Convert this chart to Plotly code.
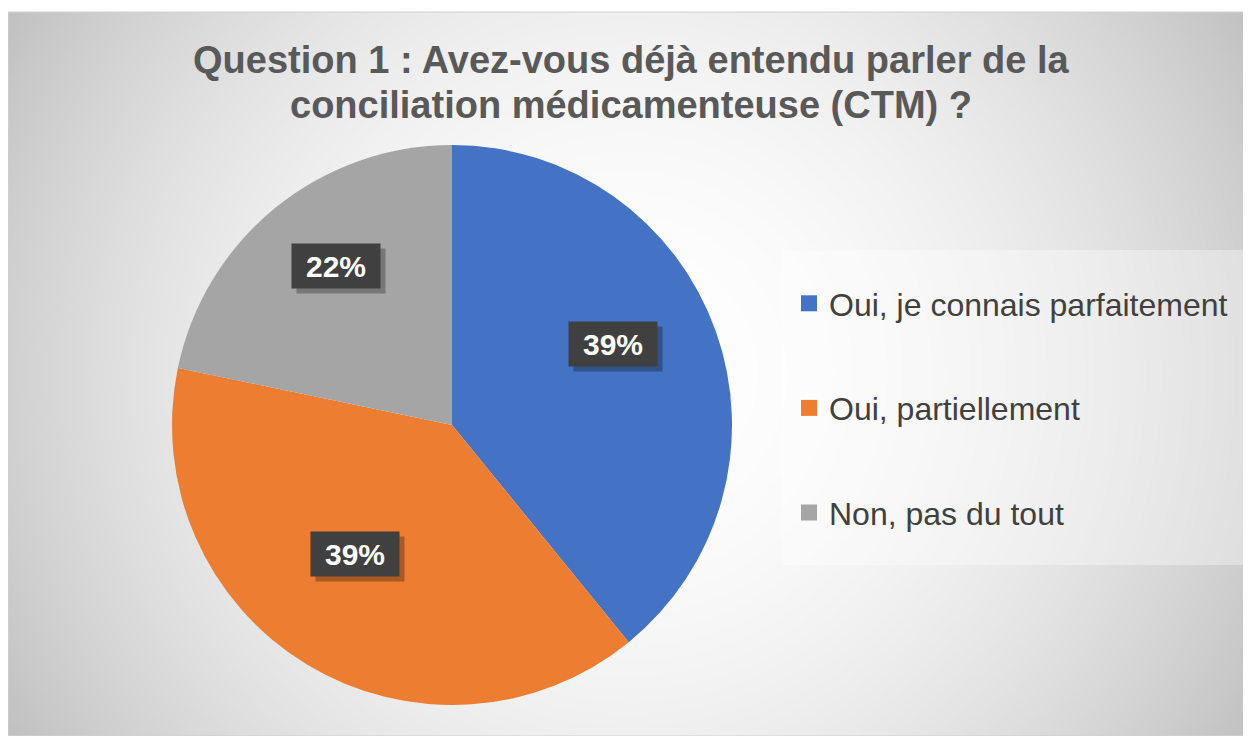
import base64
import struct
import zlib

import numpy as np
import plotly.graph_objects as go

# ---------------- data ----------------
categories = ["Oui, je connais parfaitement", "Oui, partiellement", "Non, pas du tout"]
counts = [18, 18, 10]
colors = ["#4472C4", "#ED7D31", "#A5A5A5"]
title_lines = [
    "Question 1 : Avez-vous déjà entendu parler de la",
    "conciliation médicamenteuse (CTM) ?",
]

# ---------------- geometry / style ----------------
PAGE_W, PAGE_H = 1251, 736
OFF = 8                      # browser body margin
W, H = PAGE_W - OFF, PAGE_H - OFF
PX0, PY0 = 7, 12             # chart panel top-left (page px)
CX, CY, R = 452, 425, 280    # pie centre and radius (page px)
LABEL_R = 0.63
LABEL_DX, LABEL_LIFT = -5, 22
FONT = "Liberation Sans, Arial, sans-serif"


def px(x):
    return (x - OFF) / W


def py(y):
    return 1 - (y - OFF) / H


def png_data_uri(arr):
    h, w = arr.shape
    raw = b"".join(b"\x00" + arr[i].tobytes() for i in range(h))

    def chunk(t, d):
        c = struct.pack(">I", len(d)) + t + d
        return c + struct.pack(">I", zlib.crc32(t + d) & 0xFFFFFFFF)

    png = (b"\x89PNG\r\n\x1a\n"
           + chunk(b"IHDR", struct.pack(">IIBBBBB", w, h, 8, 0, 0, 0, 0))
           + chunk(b"IDAT", zlib.compress(raw, 9))
           + chunk(b"IEND", b""))
    return "data:image/png;base64," + base64.b64encode(png).decode()


# radial gradient background for the panel
scale = 2
x_left = max(PX0, OFF)
gw, gh = (PAGE_W - x_left) // scale, (PAGE_H - PY0) // scale
gx = x_left + (np.arange(gw) + 0.5) * scale
gy = PY0 + (np.arange(gh) + 0.5) * scale
GX, GY = np.meshgrid(gx, gy)
d2 = (GX - 629) ** 2 + (GY - 374) ** 2
grad = np.clip(255 - 1.2e-4 * d2, 185, 255).astype(np.uint8)
bg_uri = png_data_uri(grad)

fig = go.Figure()

fig.add_trace(go.Pie(
    labels=categories,
    values=counts,
    marker=dict(colors=colors, line=dict(width=0)),
    sort=False,
    direction="clockwise",
    rotation=0,
    textinfo="none",
    showlegend=False,
    domain=dict(x=[px(CX - R), px(CX + R)], y=[py(CY + R), py(CY - R)]),
))

# legend entries
for name, col in zip(categories, colors):
    fig.add_trace(go.Scatter(
        x=[None], y=[None], mode="markers", name=name,
        marker=dict(symbol="square", size=16, color=col),
        legendgroup=name, showlegend=True, hoverinfo="skip",
    ))

annotations = []

# title lines
for i, line in enumerate(title_lines):
    annotations.append(dict(
        text=line, x=px(631), y=py(60 + 45 * i), xref="paper", yref="paper",
        xanchor="center", yanchor="middle", showarrow=False,
        font=dict(size=38, color="#595959", family=FONT, weight="bold"),
    ))

# data labels (boxes)
total = sum(counts)
cum = 0.0
for v in counts:
    frac = v / total
    mid = (cum + frac / 2) * 2 * np.pi
    cum += frac
    lx = CX + LABEL_DX + LABEL_R * R * np.sin(mid)
    ly = CY - LABEL_LIFT - LABEL_R * R * np.cos(mid)
    txt = f"{round(frac * 100)}%"
    common = dict(x=px(lx), y=py(ly), xref="paper", yref="paper",
                  showarrow=False, width=84, height=40, borderpad=2,
                  xanchor="center", yanchor="middle")
    annotations.append(dict(text=txt, bgcolor="rgba(0,0,0,0.28)",
                            font=dict(size=30, color="rgba(0,0,0,0)", family=FONT, weight="bold"),
                            xshift=5, yshift=-5, **common))
    annotations.append(dict(text=txt, bgcolor="#404040",
                            font=dict(size=30, color="white", family=FONT, weight="bold"),
                            **common))

fig.update_layout(
    width=W, height=H, autosize=False,
    margin=dict(l=0, r=0, t=0, b=0),
    paper_bgcolor="white",
    plot_bgcolor="rgba(0,0,0,0)",
    xaxis=dict(visible=False),
    yaxis=dict(visible=False),
    legend=dict(
        x=px(789), xanchor="left", y=py(276), yanchor="top",
        bgcolor="rgba(0,0,0,0)",
        font=dict(size=32, color="#404040", family=FONT),
        tracegroupgap=60, itemsizing="trace",
    ),
    images=[dict(source=bg_uri, xref="paper", yref="paper",
                 x=px(x_left), y=py(PY0), sizex=(PAGE_W - x_left) / W, sizey=(PAGE_H - PY0) / H,
                 xanchor="left", yanchor="top", sizing="stretch", layer="below")],
    shapes=[
        dict(type="rect", xref="paper", yref="paper",
             x0=px(x_left), x1=1, y0=0, y1=py(PY0),
             line=dict(color="#d0d0d0", width=1), fillcolor="rgba(0,0,0,0)", layer="below"),
        dict(type="rect", xref="paper", yref="paper",
             x0=px(782), x1=px(1244), y0=py(565), y1=py(250),
             line=dict(width=0), fillcolor="rgba(255,255,255,0.35)", layer="below"),
    ],
    annotations=annotations,
)

fig.write_html("out.html")
